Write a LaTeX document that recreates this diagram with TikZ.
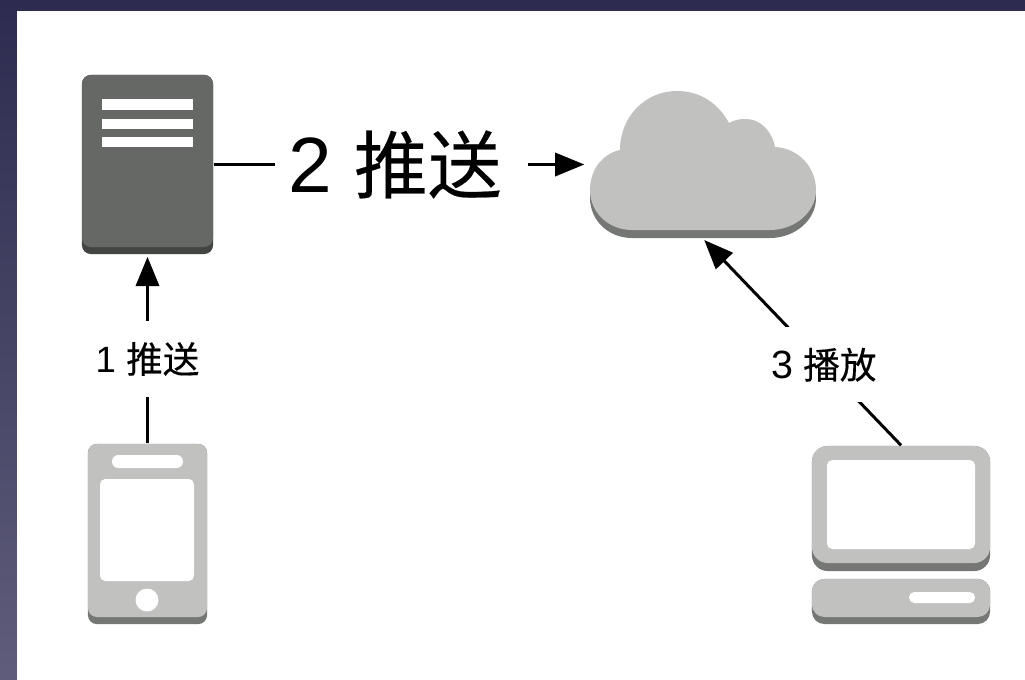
\documentclass[tikz,border=0pt]{standalone}
\usepackage{fontspec}
\usetikzlibrary{arrows.meta}
\setmainfont{Liberation Sans}
\newfontfamily\cjk[FakeBold=0.3]{Noto Sans CJK SC}
\definecolor{iconlight}{HTML}{C1C1BF}
\definecolor{icondark}{HTML}{757775}
\definecolor{serverface}{HTML}{666865}
\definecolor{serverbase}{HTML}{434543}
\definecolor{slidetop}{HTML}{2D2C50}
\definecolor{slidebottom}{HTML}{5F5D7A}
\tikzset{
    icon/.style={rectangle, inner sep=0pt, rounded corners=2.5pt},
    biglabel/.style={fill=white, inner sep=0pt, minimum width=2.52cm, minimum height=0.6cm, font=\fontsize{21}{24}\selectfont},
    smalllabel/.style={fill=white, inner sep=0pt, minimum width=1.1cm, minimum height=0.75cm, font=\fontsize{10.4}{12}\selectfont},
    link/.style={-{Triangle[length=8.3pt,width=6.6pt]}, line width=0.85pt, black}
}
\newcommand{\cloudoutline}{(729,123) .. controls (718,103) and (700,91) .. (677,91) .. controls (645,91) and (620,117) .. (620,150) .. controls (602,154) and (590,170) .. (590,190) .. controls (590,212) and (608,230) .. (632,230) -- (770,230) .. controls (795,230) and (816,212) .. (816,190) .. controls (816,167) and (798,148) .. (775,147) .. controls (772,131) and (760,119) .. (746,119) .. controls (739,119) and (734,120) .. (729,123) -- cycle}
\begin{document}
\begin{tikzpicture}[x=0.01cm, y=-0.01cm]

    \useasboundingbox (0,0) rectangle (1025,679);

    % slide behind the page
    \shade [top color=slidetop, bottom color=slidebottom] (0,0) rectangle (1030,685);
    \fill [white] (17,11) rectangle (1030,685);

    % server
    \node [icon, fill=serverbase, minimum width=1.31cm, minimum height=1.79cm] (server) at (147.5,164.5) {};
    \fill [serverface, rounded corners=2.5pt] (82,75) rectangle (213,247);
    \foreach \y in {99.5,119,137}
        \fill [white] (102,\y) rectangle (193,\y+10.5);

    % cloud
    \node [inner sep=0pt, minimum width=2.26cm, minimum height=1.47cm] (cloud) at (703,164.5) {};
    \fill [icondark, shift={(0,8)}] \cloudoutline;
    \fill [iconlight] \cloudoutline;

    % phone
    \node [icon, fill=icondark, minimum width=1.19cm, minimum height=1.80cm] (phone) at (147.5,534) {};
    \fill [iconlight, rounded corners=2.5pt] (88,444) rectangle (207,617);
    \fill [white, rounded corners=1.8pt] (112,455) rectangle (183,468);
    \fill [white, rounded corners=1.5pt] (100,479) rectangle (194,581);
    \fill [white] (147,600) circle (11.5);

    % computer
    \node [icon, fill=icondark, rounded corners=4.5pt, minimum width=1.78cm, minimum height=1.25cm] (monitor) at (901,508.5) {};
    \fill [iconlight, rounded corners=4.5pt] (812,446) rectangle (990,563);
    \fill [white, rounded corners=1.5pt] (827,460) rectangle (975,549);
    \node [icon, fill=icondark, rounded corners=3.5pt, minimum width=1.78cm, minimum height=0.45cm] (base) at (901,601.5) {};
    \fill [iconlight, rounded corners=3.5pt] (812,579) rectangle (990,617);
    \fill [white, rounded corners=1.5pt] (909,592) rectangle (975,603);

    % connectors
    \draw [link, shorten >=0.6pt] (phone.north) -- node [smalllabel, pos=0.447] (pushone) {1 {\cjk 推送}} (server.south);
    \draw [link, shorten >=1.4pt] (server.east) -- node [biglabel, pos=0.5] (pushtwo) {{\fontsize{22.3}{24}\selectfont 2}\hspace{0.22cm}{\cjk 推送}\kern0.13cm} (cloud.west);
    \draw [link, shorten >=0.5pt] (monitor.north) -- node [smalllabel, pos=0.39] (play) {{\fontsize{11.2}{12}\selectfont 3} {\cjk 播放}} (cloud.south);

\end{tikzpicture}
\end{document}
